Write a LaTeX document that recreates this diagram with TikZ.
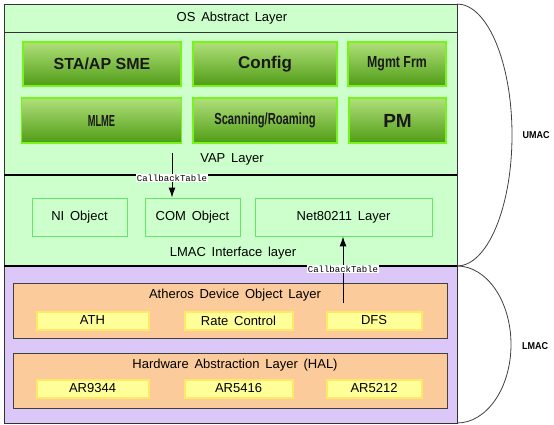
\documentclass[tikz,border=0pt]{standalone}
\usepackage{fontspec}
\setmainfont{Liberation Sans}
\setmonofont{Liberation Mono}
\usetikzlibrary{arrows.meta}

\definecolor{umacbg}{HTML}{CCFFCC}
\definecolor{lmacbg}{HTML}{DCC8F8}
\definecolor{limeedge}{HTML}{77F51A}
\definecolor{objedge}{HTML}{66E666}
\definecolor{devbg}{HTML}{FBCB9B}
\definecolor{chipbg}{HTML}{FFFF99}
\definecolor{chipedge}{HTML}{FFE866}

\def\narrow#1#2{\scalebox{#1}[1]{#2}}

\tikzset{
  band/.style={draw=black!80, line width=0.8pt, minimum width=453, inner sep=0, outer sep=0},
  funcbox/.style={draw=limeedge, line width=1.3pt, top color={rgb,255:red,176;green,224;blue,122},
    bottom color={rgb,255:red,80;green,156;blue,22}, inner sep=0,
    font=\bfseries\fontsize{16}{16}\selectfont, text=black!90},
  objbox/.style={draw=objedge, line width=0.9pt, fill=umacbg, minimum width=95, minimum height=38,
    inner sep=0, font=\fontsize{13}{13}\selectfont},
  devbox/.style={draw=black!75, line width=0.8pt, fill=devbg, minimum width=434, minimum height=55, inner sep=0},
  chipbox/.style={draw=chipedge, line width=2pt, fill=chipbg, minimum height=18, inner sep=0,
    font=\fontsize{13}{13}\selectfont},
  layertext/.style={font=\fontsize{13}{13}\selectfont, inner sep=0},
  cblabel/.style={fill=white, inner sep=1pt, font=\ttfamily\fontsize{9}{9}\selectfont},
  cbarrow/.style={-{Latex[length=10pt,width=7pt]}, line width=1pt},
  arcline/.style={draw=black!75, line width=0.8pt},
  maclabel/.style={font=\bfseries\fontsize{10}{10}\selectfont},
}

\begin{document}
\begin{tikzpicture}[x=1pt,y=-1pt]
  \useasboundingbox (0,0) rectangle (554,424);

  % layer bands
  \node[band, fill=umacbg, minimum height=28] (os) at (230.5,18) {};
  \node[band, fill=umacbg, minimum height=143] (vap) at (230.5,103.5) {};
  \node[band, fill=umacbg, minimum height=91] (lmif) at (230.5,220.5) {};
  \node[band, fill=lmacbg, minimum height=157] (lmac) at (230.5,344.5) {};
  \draw[black, line width=1.3pt] (vap.south west) -- (vap.south east);
  \draw[black, line width=1.3pt] (lmif.south west) -- (lmif.south east);

  % band titles
  \node[layertext] (ostext) at (232,18) {OS\, Abstract\, Layer};
  \node[layertext] (vaptext) at (232,159) {VAP\, Layer};
  \node[layertext] (lmiftext) at (233,253) {LMAC\, Interface\, layer};

  % VAP function blocks
  \node[funcbox, minimum width=158, minimum height=44] (sme) at (102,64) {STA/AP SME};
  \node[funcbox, minimum width=144, minimum height=44, font=\bfseries\fontsize{17}{17}\selectfont] (config) at (265,64) {Config};
  \node[funcbox, minimum width=98, minimum height=44] (mgmt) at (397,64) {\narrow{0.77}{Mgmt Frm}};
  \node[funcbox, minimum width=160, minimum height=45] (mlme) at (101.5,120.5) {\narrow{0.58}{MLME}};
  \node[funcbox, minimum width=144, minimum height=45] (scan) at (265,120.5) {\narrow{0.7}{Scanning/Roaming}};
  \node[funcbox, minimum width=97, minimum height=45, font=\bfseries\fontsize{19}{19}\selectfont] (pm) at (397.5,120.5) {PM};

  % LMAC interface objects
  \node[objbox] (ni) at (79.5,217) {NI\, Object};
  \node[objbox] (com) at (192.5,217) {COM\, Object};
  \node[objbox, minimum width=177] (net) at (343.5,217) {Net80211\, Layer};

  % device object layer
  \node[devbox] (ath) at (230,311) {};
  \node[layertext] (athtext) at (235,295) {Atheros\, Device\, Object\, Layer};
  \node[chipbox, minimum width=112] (athchip) at (92.5,320.5) {ATH};
  \node[chipbox, minimum width=108] (rate) at (238.5,320.5) {Rate\, Control};
  \node[chipbox, minimum width=95] (dfs) at (374,320.5) {DFS};

  % hardware abstraction layer
  \node[devbox] (hal) at (230,380.5) {};
  \node[layertext] (haltext) at (235,365) {Hardware\, Abstraction\, Layer\, (HAL)};
  \node[chipbox, minimum width=112] (ar9344) at (92.5,388.5) {AR9344};
  \node[chipbox, minimum width=108] (ar5416) at (238.5,388.5) {AR5416};
  \node[chipbox, minimum width=95] (ar5212) at (374,388.5) {AR5212};

  % callback arrows
  \coordinate (cbvap) at (172,153);
  \coordinate (cbdev) at (343,303);
  \draw[cbarrow] (cbvap) -- (com.north -| cbvap);
  \draw[cbarrow] (cbdev) -- (net.south -| cbdev);
  \node[cblabel] (cbup) at (172,178) {CallbackTable};
  \node[cblabel] (cbdown) at (343,269) {CallbackTable};

  % UMAC / LMAC braces
  \draw[arcline] (os.north east) arc[start angle=-90, end angle=90, x radius=55, y radius=131];
  \draw[arcline] (lmac.north east) arc[start angle=-90, end angle=90, x radius=54, y radius=78.5];
  \node[maclabel] (umac) at (536,135) {\narrow{0.9}{UMAC}};
  \node[maclabel] (lmaclbl) at (535,346) {\narrow{0.9}{LMAC}};
\end{tikzpicture}
\end{document}
